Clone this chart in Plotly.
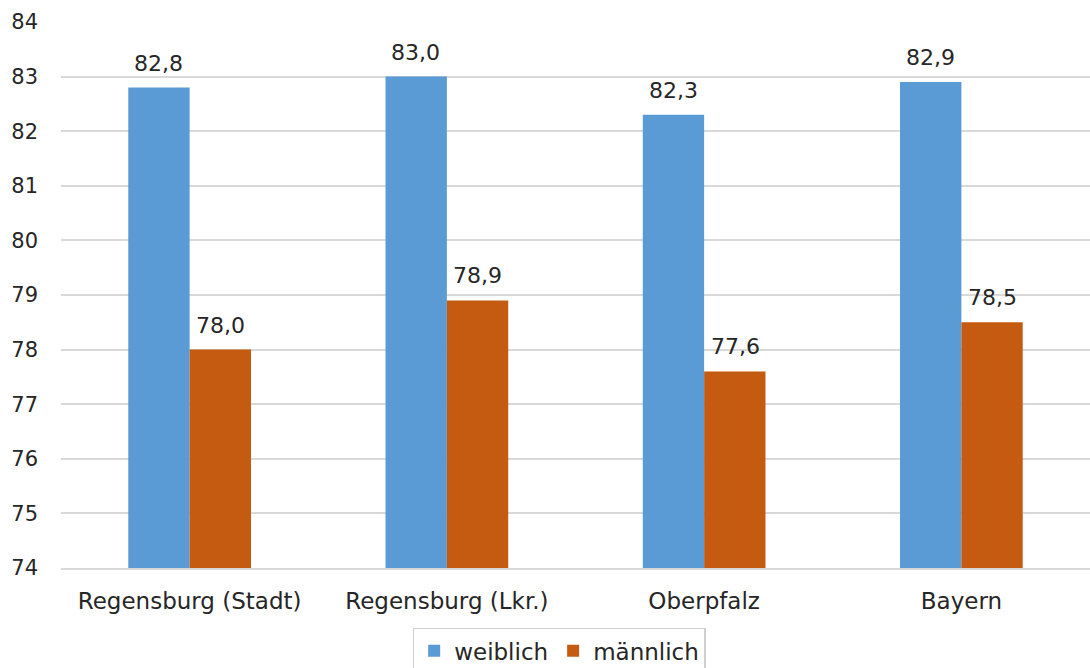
import plotly.graph_objects as go

regions = ["Regensburg (Stadt)", "Regensburg (Lkr.)", "Oberpfalz", "Bayern"]
weiblich = [82.8, 83.0, 82.3, 82.9]
maennlich = [78.0, 78.9, 77.6, 78.5]
y_ticks = list(range(74, 85))

font_family = "DejaVu Sans, Lato, sans-serif"
text_color = "#262626"


def fmt(v):
    return f"{v:.1f}".replace(".", ",")


fig = go.Figure()
fig.add_trace(go.Bar(
    x=regions, y=weiblich, name="weiblich",
    marker=dict(color="#5B9BD5", line=dict(width=0)),
))
fig.add_trace(go.Bar(
    x=regions, y=maennlich, name="männlich",
    marker=dict(color="#C55A11", line=dict(width=0)),
))

# value labels above each bar (left bar = weiblich, right bar = männlich)
half_bar_px = 31
for series, shift in ((weiblich, -half_bar_px), (maennlich, half_bar_px)):
    for cat, val in zip(regions, series):
        fig.add_annotation(
            x=cat, y=val, xref="x", yref="y", text=fmt(val),
            showarrow=False, xshift=shift, yanchor="bottom", yshift=10,
            font=dict(size=22, color=text_color, family=font_family),
        )

fig.update_layout(
    width=1090, height=668,
    margin=dict(l=61, r=0, t=22, b=100),
    paper_bgcolor="white", plot_bgcolor="white",
    font=dict(family=font_family, size=22, color=text_color),
    barmode="group", bargap=0.523, bargroupgap=0,
    showlegend=True,
    legend=dict(
        orientation="h", xref="container", yref="container",
        x=0.513, xanchor="center", y=0.06, yanchor="top",
        bordercolor="#d0d0d0", borderwidth=1.5,
        font=dict(size=23), itemwidth=30, traceorder="normal",
    ),
    xaxis=dict(
        showgrid=False, showline=True, linecolor="#d9d9d9", linewidth=1.5,
        ticks="", tickfont=dict(size=23), ticklabelstandoff=12,
    ),
    yaxis=dict(
        range=[74, 84], tickvals=y_ticks, showgrid=True,
        gridcolor="#d9d9d9", gridwidth=1.5, zeroline=False,
        showline=False, ticks="", tickfont=dict(size=21), ticklabelstandoff=22,
    ),
)

fig.write_html("out.html")
